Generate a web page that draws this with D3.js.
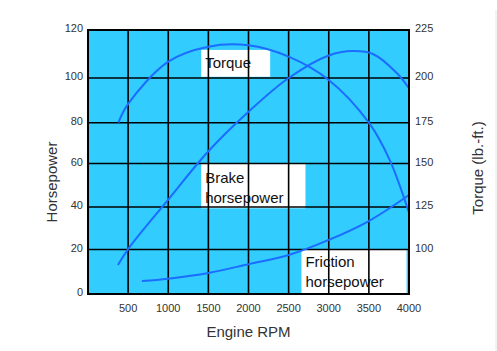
<!DOCTYPE html>
<html lang="en">
<head>
<meta charset="UTF-8">
<title>Engine RPM chart</title>
<script src="https://d3js.org/d3.v7.min.js"></script>
<style>
body { margin: 0; background: #fff; }
.tick-label { font-family: "Liberation Sans", Arial, sans-serif; font-size: 11px; fill: #333; }
.axis-title { font-family: "Liberation Sans", Arial, sans-serif; font-size: 15px; fill: #333; }
.curve-label { font-family: "Liberation Sans", Arial, sans-serif; font-size: 15px; fill: #111; }
</style>
</head>
<body>
<div id="chart"></div>
<script>
// data
const torqueRpm = [378, 500, 1000, 1500, 2000, 2500, 3000, 3500, 3760, 4000];
const torque    = [175, 185.5, 208.5, 216.3, 217, 211.1, 198.9, 175, 152.1, 121.6];

const brakeRpm = [373, 500, 1000, 1500, 2000, 2500, 3000, 3300, 3550, 3850, 4000];
const brakeHp  = [13, 20.2, 43.4, 66, 84.9, 100, 109.4, 111.2, 110, 102, 95.4];

const frictionRpm = [672, 1000, 1500, 2000, 2500, 3000, 3500, 4000];
const frictionHp  = [5.8, 6.9, 9.45, 13.4, 17.5, 24.5, 33.4, 45.5];

const rpmTicks = [500, 1000, 1500, 2000, 2500, 3000, 3500, 4000];
const hpTicks = [0, 20, 40, 60, 80, 100, 120];
const torqueTicks = [75, 100, 125, 150, 175, 200, 225];

const W = 497, H = 351;
const margin = { top: 30, right: 88, bottom: 57, left: 88 };
const width = W - margin.left - margin.right;
const height = H - margin.top - margin.bottom;

const svg = d3.select('#chart').append('svg')
  .attr('width', W)
  .attr('height', H);

// faint border on the right edge
svg.append('line')
  .attr('x1', W - 1).attr('x2', W - 1)
  .attr('y1', 10).attr('y2', H)
  .attr('stroke', '#e6e6e6');

const g = svg.append('g')
  .attr('transform', `translate(${margin.left},${margin.top})`);

// the original grid rows are not quite even, so the y scales are piecewise
const rowPos = [height, 219.5, 177, 133.5, 92.7, 48, 0];
const x = d3.scaleLinear().domain([0, 4000]).range([0, width]);
const yHp = d3.scaleLinear().domain(hpTicks).range(rowPos);
const yTq = d3.scaleLinear().domain(torqueTicks).range(rowPos);

// background
g.append('rect')
  .attr('width', width)
  .attr('height', height)
  .attr('fill', '#33ccff');

// white label boxes (in data units)
const boxes = [
  { x0: 1410, x1: 2270, y0: 100.5, y1: 111.7, dy: 18, lines: ['Torque'] },
  { x0: 1410, x1: 2710, y0: 39.4, y1: 60.1, dy: 20, lines: ['Brake', 'horsepower'] },
  { x0: 2660, x1: 3970, y0: 0, y1: 19.8, dy: 17, lines: ['Friction', 'horsepower'] }
];
g.selectAll('.box')
  .data(boxes)
  .join('rect')
  .attr('class', 'box')
  .attr('x', d => x(d.x0))
  .attr('y', d => yHp(d.y1))
  .attr('width', d => x(d.x1) - x(d.x0))
  .attr('height', d => yHp(d.y0) - yHp(d.y1))
  .attr('fill', '#fff');

// grid
g.selectAll('.vgrid')
  .data(rpmTicks.slice(0, -1))
  .join('line')
  .attr('x1', d => x(d)).attr('x2', d => x(d))
  .attr('y1', 0).attr('y2', height)
  .attr('stroke', '#000').attr('stroke-width', 1.6);

g.selectAll('.hgrid')
  .data(hpTicks.slice(1, -1))
  .join('line')
  .attr('x1', 0).attr('x2', width)
  .attr('y1', d => yHp(d)).attr('y2', d => yHp(d))
  .attr('stroke', '#000').attr('stroke-width', 1.6);

// curves
const lineColor = '#1a6dff';
const hpLine = d3.line()
  .x(d => x(d[0]))
  .y(d => yHp(d[1]))
  .curve(d3.curveCatmullRom);
const tqLine = d3.line()
  .x(d => x(d[0]))
  .y(d => yTq(d[1]))
  .curve(d3.curveCatmullRom);

g.append('path')
  .attr('d', tqLine(d3.zip(torqueRpm, torque)))
  .attr('fill', 'none').attr('stroke', lineColor).attr('stroke-width', 2);
g.append('path')
  .attr('d', hpLine(d3.zip(brakeRpm, brakeHp)))
  .attr('fill', 'none').attr('stroke', lineColor).attr('stroke-width', 2);
g.append('path')
  .attr('d', hpLine(d3.zip(frictionRpm, frictionHp)))
  .attr('fill', 'none').attr('stroke', lineColor).attr('stroke-width', 2);

// frame
g.append('rect')
  .attr('width', width)
  .attr('height', height)
  .attr('fill', 'none')
  .attr('stroke', '#000')
  .attr('stroke-width', 2);

// curve labels
boxes.forEach(b => {
  b.lines.forEach((t, i) => {
    g.append('text')
      .attr('class', 'curve-label')
      .attr('x', x(b.x0) + 4)
      .attr('y', yHp(b.y1) + b.dy + i * 20)
      .text(t);
  });
});

// axis labels
g.selectAll('.xl')
  .data(rpmTicks)
  .join('text')
  .attr('class', 'tick-label')
  .attr('x', d => x(d))
  .attr('y', height + 18)
  .attr('text-anchor', 'middle')
  .text(d => d);

g.selectAll('.yl')
  .data(hpTicks)
  .join('text')
  .attr('class', 'tick-label')
  .attr('x', -5)
  .attr('y', d => yHp(d) + 2)
  .attr('text-anchor', 'end')
  .text(d => d);

g.selectAll('.yr')
  .data(torqueTicks.slice(1))
  .join('text')
  .attr('class', 'tick-label')
  .attr('x', width + 6)
  .attr('y', d => yTq(d) + 2)
  .text(d => d);

// axis titles
svg.append('text')
  .attr('class', 'axis-title')
  .attr('x', margin.left + x(2000))
  .attr('y', 337)
  .attr('text-anchor', 'middle')
  .text('Engine RPM');

svg.append('text')
  .attr('class', 'axis-title')
  .attr('transform', 'translate(57,182) rotate(-90)')
  .attr('text-anchor', 'middle')
  .text('Horsepower');

svg.append('text')
  .attr('class', 'axis-title')
  .attr('transform', 'translate(483,168) rotate(-90)')
  .attr('text-anchor', 'middle')
  .text('Torque (lb.-ft.)');
</script>
</body>
</html>
